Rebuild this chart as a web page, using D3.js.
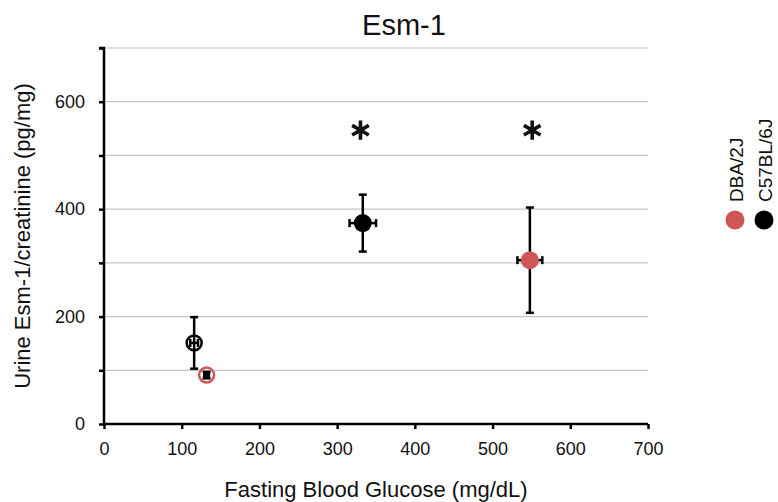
<!DOCTYPE html>
<html>
<head>
<meta charset="utf-8">
<script src="https://cdn.jsdelivr.net/npm/d3@7"></script>
<style>
  body { margin: 0; background: #fff; }
  text { font-family: "Liberation Sans", Arial, sans-serif; }
</style>
</head>
<body>
<svg width="778" height="502"></svg>
<script>
// strain, glucose (mg/dL) +/- sem, Esm-1 (pg/mg) +/- sem, open = control
const strains = ["DBA/2J", "C57BL/6J"];
const strainColor = { "DBA/2J": "#cf5656", "C57BL/6J": "#000000" };
const points = [
  { strain: "C57BL/6J", open: true,  x: 116, xe: 5,  y: 151, ye: 48 },
  { strain: "DBA/2J",   open: true,  x: 132, xe: 3,  y: 91,  ye: 6 },
  { strain: "C57BL/6J", open: false, x: 333, xe: 17, y: 374, ye: 53 },
  { strain: "DBA/2J",   open: false, x: 548, xe: 16, y: 305, ye: 98 }
];
const stars = [{ x: 330, y: 547 }, { x: 551, y: 547 }];
const xTicks = [0, 100, 200, 300, 400, 500, 600, 700];
const yTicks = [0, 200, 400, 600];
const yGrid = [100, 200, 300, 400, 500, 600, 700];

const svg = d3.select("svg");
const x = d3.scaleLinear().domain([0, 700]).range([104, 648]);
const y = d3.scaleLinear().domain([0, 700]).range([424, 48]);

// gridlines
svg.append("g")
  .selectAll("line")
  .data(yGrid)
  .join("line")
  .attr("x1", x(0)).attr("x2", x(700))
  .attr("y1", d => y(d)).attr("y2", d => y(d))
  .attr("stroke", "#c4c4c4").attr("stroke-width", 1.2);

// axes
const xAxis = svg.append("g")
  .attr("transform", `translate(0,${y(0)})`)
  .call(d3.axisBottom(x).tickValues(xTicks).tickSize(5).tickPadding(13));
const yAxis = svg.append("g")
  .attr("transform", `translate(${x(0)},0)`)
  .call(d3.axisLeft(y).tickValues(d3.range(0, 701, 100)).tickSize(5).tickPadding(14)
    .tickFormat(d => yTicks.includes(d) ? d : ""));
[xAxis, yAxis].forEach(a => {
  a.attr("font-size", null).attr("font-family", null);
  a.select(".domain").attr("stroke", "#000").attr("stroke-width", 2.5);
  a.selectAll(".tick line").attr("stroke", "#000").attr("stroke-width", 2.5);
  a.selectAll(".tick text").attr("font-size", 18).attr("fill", "#111");
});
yAxis.select(".domain").attr("d", `M-5,${y(700)}H0V${y(0)}`);
xAxis.select(".domain").attr("d", `M${x(0)},0H${x(700)}`);

// error bars
const cap = 4;
const bars = svg.append("g").attr("stroke", "#000").attr("stroke-width", 2.5);
points.forEach(p => {
  const cx = x(p.x), cy = y(p.y);
  bars.append("line").attr("x1", cx).attr("x2", cx).attr("y1", y(p.y + p.ye)).attr("y2", y(p.y - p.ye));
  bars.append("line").attr("x1", cx - cap).attr("x2", cx + cap).attr("y1", y(p.y + p.ye)).attr("y2", y(p.y + p.ye));
  bars.append("line").attr("x1", cx - cap).attr("x2", cx + cap).attr("y1", y(p.y - p.ye)).attr("y2", y(p.y - p.ye));
  bars.append("line").attr("x1", x(p.x - p.xe)).attr("x2", x(p.x + p.xe)).attr("y1", cy).attr("y2", cy);
  bars.append("line").attr("x1", x(p.x - p.xe)).attr("x2", x(p.x - p.xe)).attr("y1", cy - cap).attr("y2", cy + cap);
  bars.append("line").attr("x1", x(p.x + p.xe)).attr("x2", x(p.x + p.xe)).attr("y1", cy - cap).attr("y2", cy + cap);
});

// markers
svg.append("g")
  .selectAll("circle")
  .data(points)
  .join("circle")
  .attr("cx", d => x(d.x))
  .attr("cy", d => y(d.y))
  .attr("r", d => d.open ? 7.5 : 9)
  .attr("fill", d => d.open ? "none" : strainColor[d.strain])
  .attr("stroke", d => strainColor[d.strain])
  .attr("stroke-width", d => d.open ? 2.5 : 0);

// significance
svg.append("g")
  .selectAll("path")
  .data(stars)
  .join("path")
  .attr("transform", d => `translate(${x(d.x)},${y(d.y)})`)
  .attr("d", d3.symbol(d3.symbolAsterisk, 260))
  .attr("fill", "none")
  .attr("stroke", "#111")
  .attr("stroke-width", 3.6);

// title and labels
svg.append("text").attr("x", 404).attr("y", 35).attr("text-anchor", "middle")
  .attr("font-size", 29).attr("fill", "#111").text("Esm-1");
svg.append("text").attr("x", 376).attr("y", 497).attr("text-anchor", "middle")
  .attr("font-size", 22).attr("fill", "#111").text("Fasting Blood Glucose (mg/dL)");
svg.append("text").attr("transform", "translate(30,236) rotate(-90)").attr("text-anchor", "middle")
  .attr("font-size", 22).attr("fill", "#111").text("Urine Esm-1/creatinine (pg/mg)");

// legend
const legend = svg.append("g")
  .selectAll("g")
  .data(strains)
  .join("g")
  .attr("transform", (d, i) => `translate(${735 + i * 29},220)`);
legend.append("circle").attr("r", 9.5).attr("fill", d => strainColor[d]);
legend.append("text")
  .attr("transform", "translate(8,-18) rotate(-90)")
  .attr("font-size", 19).attr("fill", "#111")
  .text(d => d);
</script>
</body>
</html>
